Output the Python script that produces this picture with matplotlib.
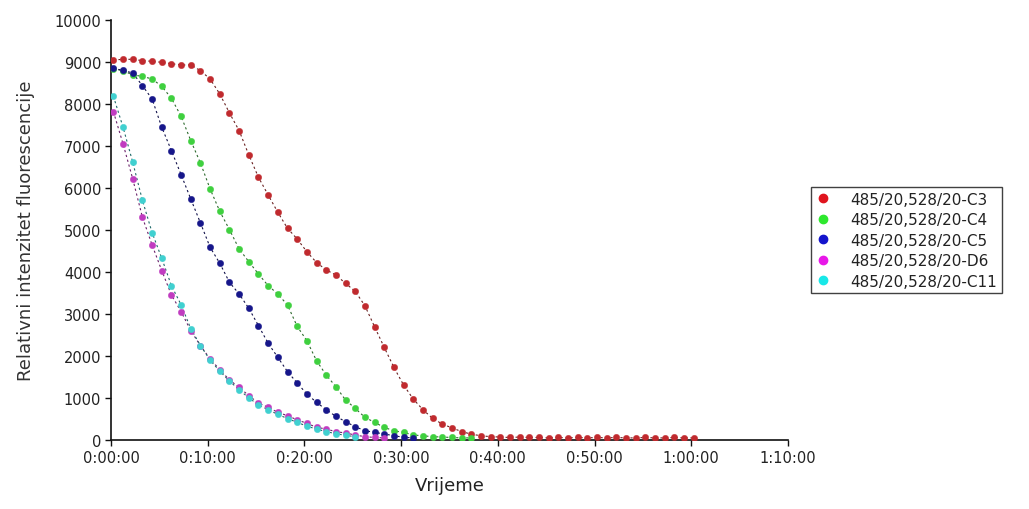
import numpy as np
import matplotlib
matplotlib.use("Agg")
import matplotlib.pyplot as plt
from matplotlib.ticker import FuncFormatter
from matplotlib.lines import Line2D

plt.rcParams['font.family'] = ['DejaVu Sans']

# ---- data (fluorescence read every minute) ----
start_min = 0.25
step_min = 1.0

labels = ["485/20,528/20-C3", "485/20,528/20-C4", "485/20,528/20-C5",
          "485/20,528/20-D6", "485/20,528/20-C11"]

c3 = [9048, 9064, 9064, 9032, 9016, 8992, 8960, 8929, 8929, 8794,
      8595, 8238, 7786, 7365, 6786, 6254, 5833, 5421, 5040, 4786,
      4483, 4226, 4050, 3929, 3730, 3540, 3198, 2698, 2206, 1730,
      1310, 976, 722, 516, 380, 290, 200, 140, 100, 80,
      70, 60, 70, 60, 60, 50, 60, 50, 60, 50,
      60, 50, 60, 50, 50, 60, 50, 50, 60, 50, 50]
c4 = [8833, 8794, 8690, 8659, 8595, 8421, 8135, 7706, 7127, 6595,
      5976, 5444, 5008, 4548, 4245, 3952, 3675, 3476, 3214, 2706,
      2365, 1889, 1548, 1270, 952, 754, 540, 420, 300, 220,
      180, 120, 100, 80, 70, 60, 50, 50]
c5 = [8850, 8800, 8738, 8436, 8119, 7445, 6889, 6317, 5738, 5167,
      4587, 4207, 3754, 3476, 3135, 2722, 2302, 1968, 1627, 1357,
      1095, 897, 722, 564, 437, 317, 222, 183, 143, 103, 64, 50]
d6 = [7817, 7048, 6214, 5302, 4643, 4032, 3452, 3056, 2603, 2246,
      1929, 1675, 1429, 1254, 1056, 881, 778, 659, 579, 480,
      397, 302, 262, 198, 167, 119, 79, 60, 50]
c11 = [8183, 7445, 6611, 5706, 4937, 4325, 3674, 3218, 2650, 2250,
       1900, 1640, 1400, 1200, 1000, 840, 720, 610, 510, 420,
       330, 260, 200, 150, 110, 80]

series = [c3, c4, c5, d6, c11]
marker_colors = ['#c02a2e', '#3fd03f', '#16168a', '#c03cc0', '#40d0d0']
line_colors = ['#6a2020', '#2d6a2d', '#10104a', '#6a206a', '#206a6a']
legend_colors = ['#e0141e', '#2ee82e', '#1414cc', '#e818e8', '#18e8e8']

x_ticks_min = [0, 10, 20, 30, 40, 50, 60, 70]
y_ticks = list(range(0, 10001, 1000))

# ---- figure ----
fig = plt.figure(figsize=(10.29, 5.10), dpi=100)
ax = fig.add_axes([111 / 1029, 69 / 510, 677 / 1029, 420 / 510])

for vals, mc, lc in zip(series, marker_colors, line_colors):
    t = start_min + step_min * np.arange(len(vals))
    ax.plot(t, vals, color=lc, lw=0.8, dashes=(2, 2.5), zorder=2)
    ax.plot(t, vals, ls='none', marker='o', ms=4.6, mfc=mc, mec=mc,
            mew=0.3, zorder=3)

ax.set_xlim(0, 70)
ax.set_ylim(0, 10000)
ax.set_xticks(x_ticks_min)
ax.set_yticks(y_ticks)

def fmt_time(v, pos):
    total = int(round(v * 60))
    h = total // 3600
    m = (total % 3600) // 60
    s = total % 60
    return f"{h}:{m:02d}:{s:02d}"

ax.xaxis.set_major_formatter(FuncFormatter(fmt_time))

for side in ['top', 'right']:
    ax.spines[side].set_visible(False)
for side in ['left', 'bottom']:
    ax.spines[side].set_color('#111111')
    ax.spines[side].set_linewidth(1.2)

ax.tick_params(axis='both', direction='out', length=4, width=1,
               colors='#111111', labelcolor='#222222', labelsize=10.5)
ax.tick_params(axis='x', pad=3)
ax.tick_params(axis='y', pad=3)

ax.set_xlabel("Vrijeme", fontsize=13, color='#222222', labelpad=8)
ax.set_ylabel("Relativni intenzitet fluorescencije", fontsize=13,
              color='#333333', labelpad=14)

handles = [Line2D([], [], ls='none', marker='o', ms=6, mfc=c, mec=c)
           for c in legend_colors]
leg = fig.legend(handles, labels, loc='upper left',
                 bbox_to_anchor=(811 / 1029, 1 - 188 / 510),
                 frameon=True, fancybox=False, shadow=False,
                 fontsize=11, labelspacing=0.36, handlelength=1.0,
                 handletextpad=1.3, borderpad=0.3, borderaxespad=0)
leg.get_frame().set_edgecolor('#111111')
leg.get_frame().set_linewidth(1.0)
for txt in leg.get_texts():
    txt.set_color('#222222')

fig.savefig("out.png", dpi=100, facecolor='white')
